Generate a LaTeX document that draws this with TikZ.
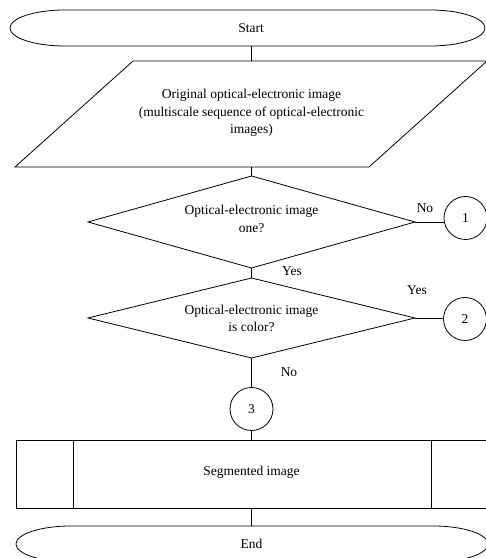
\documentclass[tikz,border=0pt]{standalone}
\usepackage{fontspec}
\setmainfont{Liberation Serif}
\begin{document}
\begin{tikzpicture}[x=1pt,y=1pt,
  shape line/.style={draw=black,line width=0.8pt},
  conn/.style={draw=black,line width=0.8pt},
  txt/.style={align=center,inner sep=0pt,font=\fontsize{13.5}{17.5}\selectfont},
  lbl/.style={inner sep=0pt,font=\fontsize{13.5}{17}\selectfont},
  connector/.style={circle,draw=black,line width=0.8pt,minimum size=43pt,inner sep=0pt,font=\fontsize{13.5}{17}\selectfont}]
\useasboundingbox (0,0) rectangle (486,558);
\fill[white] (0,0) rectangle (486,558);
\clip (0,0) rectangle (486,558);

% Start terminal
\draw[shape line] (65,548) -- (430,548) arc[start angle=90,end angle=-90,x radius=55,y radius=18]
  -- (65,512) arc[start angle=-90,end angle=-270,x radius=55,y radius=18] -- cycle;
\node[txt] (start) at (251,530) {Start};
\coordinate (startb) at (251.5,512);

% Input parallelogram
\draw[shape line] (133,497) -- (487,497) -- (369,391) -- (15,391) -- cycle;
\node[txt] (input) at (251.5,445) {Original optical-electronic image\\(multiscale sequence of optical-electronic\\images)};
\coordinate (int) at (251.5,497);
\coordinate (inb) at (251.5,391);

% Decision 1
\coordinate (d1t) at (251.5,382);
\coordinate (d1b) at (251.5,290);
\coordinate (d1l) at (88,336);
\coordinate (d1r) at (415,336);
\draw[shape line] (d1t) -- (d1r) -- (d1b) -- (d1l) -- cycle;
\node[txt] (q1) at (251.5,339) {Optical-electronic image\\one?};

% Decision 2
\coordinate (d2t) at (251.5,280);
\coordinate (d2b) at (251.5,200);
\coordinate (d2l) at (88,240);
\coordinate (d2r) at (415,240);
\draw[shape line] (d2t) -- (d2r) -- (d2b) -- (d2l) -- cycle;
\node[txt] (q2) at (251.5,239.5) {Optical-electronic image\\is color?};

% Connectors (circles)
\node[connector] (c1) at (465.5,340) {1};
\node[connector] (c2) at (465,239) {2};
\node[connector] (c3) at (251.5,149) {3};

% Predefined process
\draw[shape line] (16,118) rectangle (487,50);
\draw[shape line] (73,118) -- (73,50);
\draw[shape line] (431,118) -- (431,50);
\node[txt] (seg) at (251.5,86) {Segmented image};
\coordinate (segt) at (251.5,118);
\coordinate (segb) at (251.5,50);

% End terminal
\draw[shape line] (71,32) -- (433,32) arc[start angle=90,end angle=-90,x radius=55,y radius=18]
  -- (71,-4) arc[start angle=-90,end angle=-270,x radius=55,y radius=18] -- cycle;
\node[txt] (end) at (251.5,14) {End};
\coordinate (endt) at (251.5,32);

% Flow lines
\draw[conn] (startb) -- (int);
\draw[conn] (inb) -- (d1t);
\draw[conn] (d1b) -- (d2t);
\draw[conn] (d1r) -- (c1.west |- d1r);
\draw[conn] (d2r) -- (c2.west |- d2r);
\draw[conn] (d2b) -- (c3.north);
\draw[conn] (c3.south) -- (segt);
\draw[conn] (segb) -- (endt);

% Labels
\node[lbl] (no1) at (425,350) {No};
\node[lbl] (yes1) at (292,287) {Yes};
\node[lbl] (yes2) at (417,268) {Yes};
\node[lbl] (no2) at (289,186) {No};
\end{tikzpicture}
\end{document}
